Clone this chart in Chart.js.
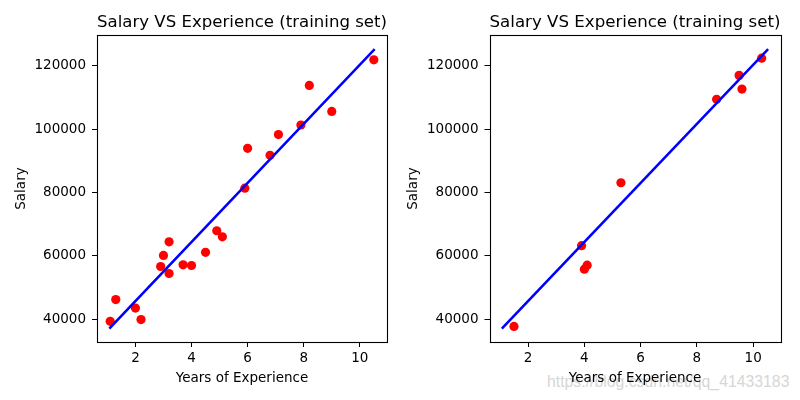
<!DOCTYPE html>
<html>
<head>
<meta charset="utf-8">
<script src="https://cdn.jsdelivr.net/npm/chart.js@4.4.1/dist/chart.umd.min.js"></script>
<style>
  html, body { margin: 0; padding: 0; background: #ffffff; }
  #wrap { position: relative; width: 800px; height: 400px; overflow: hidden; }
  .pane { position: absolute; top: 0; width: 400px; height: 400px; z-index: 2; }
  #wm { position: absolute; left: 547px; top: 372px; z-index: 1; font-family: "Liberation Sans", Arial, sans-serif;
        font-size: 15.8px; line-height: 20px; color: #d6d6d6; white-space: nowrap; }
</style>
</head>
<body>
<div id="wrap">
  <div id="wm">https://blog.csdn.net/qq_41433183</div>
  <div class="pane" style="left:0px"><canvas id="c1" width="400" height="400"></canvas></div>
  <div class="pane" style="left:400px"><canvas id="c2" width="400" height="400"></canvas></div>
</div>
<script>
// ---- data ----
const trainX = [1.1, 1.3, 2.0, 2.2, 2.9, 3.0, 3.2, 3.2, 3.7, 4.0, 4.5, 4.9, 5.1, 5.9, 6.0, 6.8, 7.1, 7.9, 8.2, 9.0, 10.5];
const trainY = [39343, 46205, 43525, 39891, 56642, 60150, 54445, 64445, 57189, 56957, 61111, 67938, 66029, 81363, 93940, 91738, 98273, 101302, 113812, 105582, 121872];
const testX = [1.5, 3.9, 4.0, 4.1, 5.3, 8.7, 9.5, 9.6, 10.3];
const testY = [37731, 63218, 55794, 57081, 83088, 109431, 116969, 112635, 122391];
// regression line (fitted on training set), read at its ends
const lineX = [1.1, 10.5];
const lineY = [37350, 124950];
const xTicks = [2, 4, 6, 8, 10];
const yTicks = [40000, 60000, 80000, 100000, 120000];
const chartTitle = 'Salary VS Experience (training set)';
const xLabel = 'Years of Experience';
const yLabel = 'Salary';

const FONT = '"DejaVu Sans", sans-serif';

const spines = {
  id: 'spines',
  afterDatasetsDraw(chart) {
    const a = chart.chartArea, ctx = chart.ctx;
    ctx.save();
    ctx.strokeStyle = '#000';
    ctx.lineWidth = 1.1;
    ctx.strokeRect(Math.round(a.left) + 0.5, Math.round(a.top) + 0.5,
                   Math.round(a.right) - Math.round(a.left), Math.round(a.bottom) - Math.round(a.top));
    ctx.restore();
  }
};

function pts(xs, ys) { return xs.map((x, i) => ({ x: x, y: ys[i] })); }

function makeChart(id, px, py, yAxisWidth, rightPad, yTitlePad) {
  return new Chart(document.getElementById(id), {
    type: 'scatter',
    data: {
      datasets: [
        { data: pts(lineX, lineY), showLine: true, borderColor: '#0000ff', borderWidth: 2.5,
          borderCapStyle: 'square', pointRadius: 0, fill: false, order: 0 },
        { data: pts(px, py), backgroundColor: '#ff0000', borderColor: '#ff0000', borderWidth: 0,
          pointRadius: 4.6, pointHoverRadius: 4.6, order: 1 }
      ]
    },
    options: {
      responsive: false,
      animation: false,
      events: [],
      layout: { padding: { left: 0, right: rightPad, top: 0, bottom: 0 } },
      plugins: {
        legend: { display: false },
        tooltip: { enabled: false },
        title: { display: true, text: chartTitle, fullSize: false, color: '#000',
                 font: { family: FONT, size: 16.7, weight: 'normal', lineHeight: 1.2 },
                 padding: { top: 13, bottom: 2 } }
      },
      scales: {
        x: {
          type: 'linear', min: 0.63, max: 10.97,
          afterBuildTicks: s => { s.ticks = xTicks.map(v => ({ value: v })); },
          afterFit: s => { s.height = 58; },
          grid: { drawOnChartArea: false, drawTicks: true, tickLength: 5, color: '#000', tickColor: '#000', lineWidth: 1 },
          border: { display: false },
          ticks: { color: '#000', padding: 3, maxRotation: 0, font: { family: FONT, size: 13.5 } },
          title: { display: true, text: xLabel, color: '#000', font: { family: FONT, size: 13.5, lineHeight: 1.2 },
                   padding: { top: 0, bottom: 13 } }
        },
        y: {
          type: 'linear', min: 32820, max: 129700,
          afterBuildTicks: s => { s.ticks = yTicks.map(v => ({ value: v })); },
          afterFit: s => { s.width = yAxisWidth; },
          grid: { drawOnChartArea: false, drawTicks: true, tickLength: 5, color: '#000', tickColor: '#000', lineWidth: 1 },
          border: { display: false },
          ticks: { color: '#000', padding: 6, font: { family: FONT, size: 13.5 }, callback: v => String(v) },
          title: { display: true, text: yLabel, color: '#000', font: { family: FONT, size: 13.5, lineHeight: 1.2 },
                   padding: { top: yTitlePad, bottom: 0 } }
        }
      }
    },
    plugins: [spines]
  });
}

makeChart('c1', trainX, trainY, 97, 13, 13.4);
makeChart('c2', testX, testY, 89.5, 19.5, 5);
</script>
</body>
</html>
